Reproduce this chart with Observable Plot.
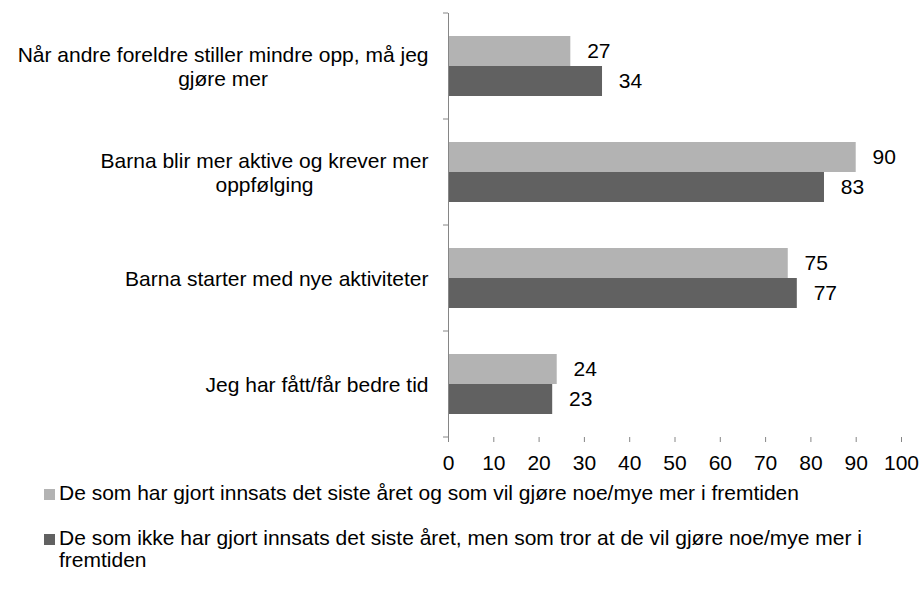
<!DOCTYPE html>
<html>
<head>
<meta charset="utf-8">
<script src="https://cdn.jsdelivr.net/npm/d3@7"></script>
<script src="https://cdn.jsdelivr.net/npm/@observablehq/plot@0.6"></script>
<style>
  body { margin: 0; background: #fff; font-family: "Liberation Sans", Arial, sans-serif; }
  #legend { margin-top: 4px; font-size: 21px; line-height: 22px; color: #000; }
  #legend .item { display: flex; align-items: flex-start; margin-bottom: 23px; }
  #legend .sw { width: 11px; height: 11px; margin-left: 44px; margin-right: 4px; margin-top: 7px; flex: none; }
  #legend .txt { width: 820px; }
</style>
</head>
<body>
<div id="chart"></div>
<div id="legend"></div>
<script>
const categories = [
  "Når andre foreldre stiller mindre opp, må jeg gjøre mer",
  "Barna blir mer aktive og krever mer oppfølging",
  "Barna starter med nye aktiviteter",
  "Jeg har fått/får bedre tid"
];
const categoryLabels = [
  "Når andre foreldre stiller mindre opp, må jeg\ngjøre mer",
  "Barna blir mer aktive og krever mer\noppfølging",
  "Barna starter med nye aktiviteter",
  "Jeg har fått/får bedre tid"
];
const seriesNames = [
  "De som har gjort innsats det siste året og som vil gjøre noe/mye mer i fremtiden",
  "De som ikke har gjort innsats det siste året, men som tror at de vil gjøre noe/mye mer i fremtiden"
];
const seriesA = [27, 90, 75, 24];
const seriesB = [34, 83, 77, 23];
const xTicks = [0, 10, 20, 30, 40, 50, 60, 70, 80, 90, 100];
const colors = ["#b3b3b3", "#616161"];

const data = categories.flatMap((c, i) => [
  {category: c, series: seriesNames[0], value: seriesA[i]},
  {category: c, series: seriesNames[1], value: seriesB[i]}
]);

const axisColor = "#868686";
const font = '"Liberation Sans", Arial, sans-serif';

const plot = Plot.plot({
  width: 920,
  height: 478,
  marginLeft: 448,
  marginRight: 19,
  marginTop: 11,
  marginBottom: 40,
  style: {fontFamily: font, fontSize: "21px", color: "black", background: "white", overflow: "visible"},
  x: {domain: [0, 100]},
  y: {domain: seriesNames, paddingInner: 0, paddingOuter: 0.75, axis: null},
  fy: {domain: categories, padding: 0, axis: null},
  color: {domain: seriesNames, range: colors},
  marks: [
    Plot.barX(data, {fy: "category", y: "series", x: "value", fill: "series"}),
    Plot.text(data, {fy: "category", y: "series", x: "value", text: d => String(d.value),
      dx: 28, textAnchor: "middle", fill: "black", fontSize: 21}),
    Plot.text(categories, {fy: d => d, text: d => categoryLabels[categories.indexOf(d)],
      frameAnchor: "left", textAnchor: "end", dx: -20, lineHeight: 1.16,
      fill: "black", fontSize: 21, className: "cat-label"}),
    Plot.ruleX([0], {stroke: axisColor}),
    Plot.axisX({ticks: xTicks, tickSize: 5, tickPadding: 13, stroke: axisColor, fill: "black",
      line: true, label: null, tickFormat: d => String(d), fontSize: 21})
  ]
});

document.getElementById("chart").appendChild(plot);

// boundary ticks on the category axis, from the library's scales
const fy = plot.scale("fy");
const xs = plot.scale("x");
const x0 = xs.apply(0);
const bounds = categories.map(c => fy.apply(c)).concat([fy.apply(categories[categories.length - 1]) + fy.step]);
const g = d3.select(plot).append("g").attr("stroke", axisColor);
bounds.forEach(b => {
  g.append("line").attr("x1", x0 - 5).attr("x2", x0).attr("y1", b).attr("y2", b);
});

// center the lines of multi-line category labels within their right-aligned block
d3.select(plot).selectAll(".cat-label text").each(function() {
  const tspans = Array.from(this.querySelectorAll("tspan"));
  if (tspans.length < 2) return;
  const widths = tspans.map(t => t.getComputedTextLength());
  const maxW = Math.max(...widths);
  tspans.forEach((t, k) => t.setAttribute("x", -(maxW - widths[k]) / 2));
});

// legend
const legend = d3.select("#legend");
seriesNames.forEach((s, i) => {
  const item = legend.append("div").attr("class", "item");
  item.append("span").attr("class", "sw").style("background", colors[i]);
  item.append("span").attr("class", "txt").text(s);
});
</script>
</body>
</html>
